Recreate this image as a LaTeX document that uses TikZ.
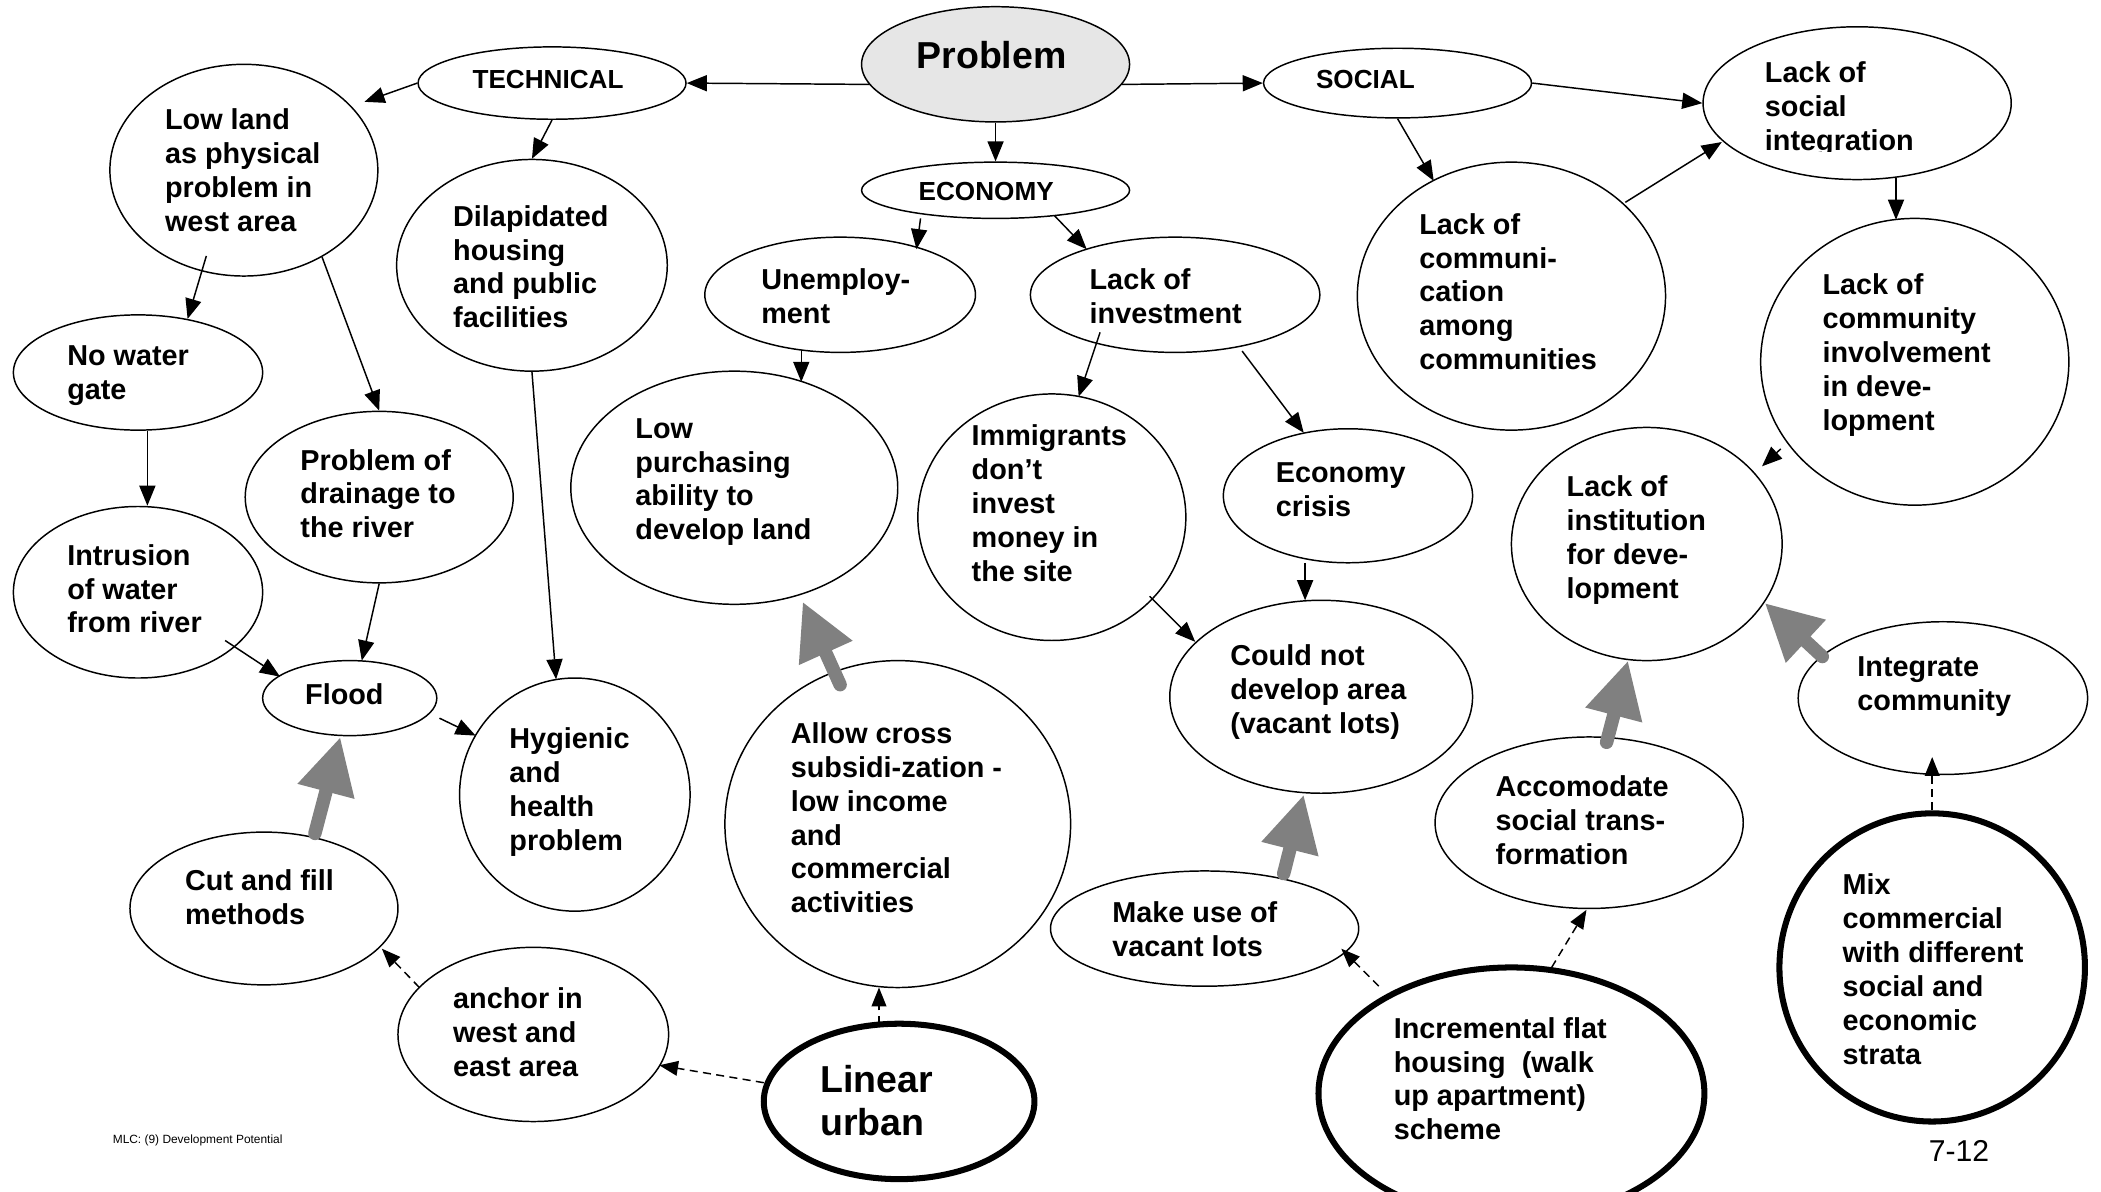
\documentclass[tikz,border=0pt]{standalone}
\usepackage{fontspec}
\setmainfont{Liberation Sans}
\usetikzlibrary{arrows.meta,shapes.geometric,calc}

\begin{document}
\begin{tikzpicture}[x=1pt,y=-1pt,
  bub/.style={draw=black,line width=1.1pt,ellipse,inner sep=0pt,fill=white},
  thickbub/.style={bub,line width=4.5pt},
  txt/.style={font=\bfseries\fontsize{21.5}{25.3}\selectfont,align=left,inner sep=0pt,anchor=north west},
  cat/.style={font=\bfseries\fontsize{19.5}{22}\selectfont,inner sep=0pt},
  big/.style={font=\bfseries\fontsize{28}{32}\selectfont,align=left,inner sep=0pt},
  arr/.style={line width=1.1pt,-{Triangle[length=15pt,width=12pt]}},
  dasharr/.style={line width=1.1pt,dash pattern=on 6pt off 4pt,-{Triangle[length=14pt,width=11pt]}},
  grayarr/.style={line width=10pt,draw=arrowgray,line cap=round,-{Triangle[length=42pt,width=41pt]}}]
\definecolor{arrowgray}{RGB}{128,128,128}
\definecolor{problemfill}{RGB}{230,230,230}

% page frame
\path[fill=white] (0,0) rectangle (1568,889);
\useasboundingbox (0,0) rectangle (1568,889);

% ---- bubbles ----
\node[bub,fill=problemfill,minimum width=200pt,minimum height=86pt] (prob) at (743,48) {};
\node[bub,minimum width=200pt,minimum height=54pt] (tech) at (412,62) {};
\node[bub,minimum width=200pt,minimum height=52pt] (social) at (1043,62) {};
\node[bub,minimum width=200pt,minimum height=42pt] (econ) at (743,142) {};
\node[bub,minimum width=230pt,minimum height=114pt] (integ) at (1386,77) {};
\node[bub,minimum width=200pt,minimum height=158pt] (lowland) at (182,127) {};
\node[bub,minimum width=202pt,minimum height=158pt] (dilap) at (397,198) {};
\node[bub,minimum width=186pt,minimum height=86pt] (nowater) at (103,278) {};
\node[bub,minimum width=202pt,minimum height=86pt] (unemp) at (627,220) {};
\node[bub,minimum width=216pt,minimum height=86pt] (invest) at (877,220) {};
\node[bub,minimum width=230pt,minimum height=200pt] (commun) at (1128,221) {};
\node[bub,minimum width=230pt,minimum height=214pt] (involve) at (1429,270) {};
\node[bub,minimum width=244pt,minimum height=174pt] (purch) at (548,364) {};
\node[bub,minimum width=200pt,minimum height=184pt] (immig) at (785,386) {};
\node[bub,minimum width=186pt,minimum height=100pt] (crisis) at (1006,370) {};
\node[bub,minimum width=226pt,minimum height=144pt] (vacant) at (986,520) {};
\node[bub,minimum width=200pt,minimum height=128pt] (drain) at (283,371) {};
\node[bub,minimum width=186pt,minimum height=128pt] (intrus) at (103,442) {};
\node[bub,minimum width=130pt,minimum height=56pt] (flood) at (261,521) {};
\node[bub,minimum width=172pt,minimum height=174pt] (hyg) at (429,593) {};
\node[bub,minimum width=258pt,minimum height=244pt] (allow) at (670,615) {};
\node[bub,minimum width=202pt,minimum height=174pt] (instit) at (1229,406) {};
\node[bub,minimum width=216pt,minimum height=114pt] (integr) at (1450,521) {};
\node[bub,minimum width=230pt,minimum height=128pt] (accom) at (1186,614) {};
\node[bub,minimum width=230pt,minimum height=86pt] (makeuse) at (899,693) {};
\node[thickbub,minimum width=288pt,minimum height=188pt] (increm) at (1128,816) {};
\node[thickbub,minimum width=228pt,minimum height=230pt] (mix) at (1442,722) {};
\node[thickbub,minimum width=202pt,minimum height=116pt] (linear) at (671,822) {};
\node[bub,minimum width=202pt,minimum height=130pt] (anchor) at (398,772) {};
\node[bub,minimum width=200pt,minimum height=114pt] (cutfill) at (197,678) {};

% ---- texts ----
\node[big] (prob-t) at (740,41) {Problem};
\node[cat] (tech-t) at (409,59) {TECHNICAL};
\node[cat] (social-t) at (1019,59) {SOCIAL};
\node[cat] (econ-t) at (736,143) {ECONOMY};
\begin{scope}
  \clip ($(integ)+(-90,-57)$) rectangle ($(integ)+(110,36)$);
  \node[txt] (integ-t) at (1317,46) {Lack of\\social\\integration};
\end{scope}
\node[txt] (lowland-t) at (123,81) {Low land\\as physical\\problem in\\west area};
\node[txt] (dilap-t) at (338,153) {Dilapidated\\housing\\and public\\facilities};
\node[txt] (unemp-t) at (568,200) {Unemploy-\\ment};
\node[txt] (invest-t) at (813,200) {Lack of\\investment};
\node[txt] (commun-t) at (1059,159) {Lack of\\communi-\\cation\\among\\communities};
\node[txt] (involve-t) at (1360,204) {Lack of\\community\\involvement\\in deve-\\lopment};
\node[txt] (nowater-t) at (50,258) {No water\\gate};
\node[txt] (drain-t) at (224,335) {Problem of\\drainage to\\the river};
\node[txt] (purch-t) at (474,312) {Low\\purchasing\\ability to\\develop land};
\node[txt] (immig-t) at (725,317) {Immigrants\\don’t\\invest\\money in\\the site};
\node[txt] (crisis-t) at (952,345) {Economy\\crisis};
\node[txt] (instit-t) at (1169,355) {Lack of\\institution\\for deve-\\lopment};
\node[txt] (intrus-t) at (50,406) {Intrusion\\of water\\from river};
\node[txt,anchor=center] (flood-t) at (257,518) {Flood};
\node[txt] (vacant-t) at (918,481) {Could not\\develop area\\(vacant lots)};
\node[txt] (integr-t) at (1386,490) {Integrate\\community};
\node[txt] (hyg-t) at (380,543) {Hygienic\\and\\health\\problem};
\node[txt] (allow-t) at (590,539) {Allow cross\\subsidi-zation -\\low income\\and\\commercial\\activities};
\node[txt] (accom-t) at (1116,579) {Accomodate\\social trans-\\formation};
\node[txt] (cutfill-t) at (138,649) {Cut and fill\\methods};
\node[txt] (mix-t) at (1375,652) {Mix\\commercial\\with different\\social and\\economic\\strata};
\node[txt] (makeuse-t) at (830,673) {Make use of\\vacant lots};
\node[txt] (anchor-t) at (338,737) {anchor in\\west and\\east area};
\node[big,anchor=north west] (linear-t) at (612,795) {Linear\\urban};
\node[txt] (increm-t) at (1040,759) {Incremental flat\\housing\ \ (walk\\up apartment)\\scheme};

\node[font=\fontsize{8.9}{10}\selectfont,inner sep=0pt,anchor=west] (footer) at (84,851) {MLC: (9) Development Potential};
\node[font=\fontsize{22.5}{26}\selectfont,inner sep=0pt] (pagenum) at (1462,859) {7-12};

% ---- causal links ----
\draw[arr] ($(prob)+(-94,15)$) -- (tech.east);
\draw[arr] ($(prob)+(94,15)$) -- (social.west);
\draw[arr] (prob.south) -- (econ.north);
\draw[arr] (tech.west) -- ($(lowland)+(90,-51)$);
\draw[arr] (tech.south) -- (dilap.north);
\draw[arr] ($(lowland)+(-28,64)$) -- ($(nowater)+(37,-40)$);
\draw[arr] (lowland.-48) -- (drain.north);
\draw[arr] ($(nowater.south)+(7,0)$) -- ($(intrus.north)+(7,0)$);
\draw[arr] ($(intrus)+(65,36)$) -- ($(flood)+(-52,-16)$);
\draw[arr] (drain.south) -- ($(flood)+(9,-28)$);
\draw[arr] ($(flood)+(67,15)$) -- ($(hyg)+(-74,-44)$);
\draw[arr] (dilap.south) -- ($(hyg)+(-14,-86)$);
\draw[arr] ($(econ)+(-56,21)$) -- ($(unemp)+(57,-34)$);
\draw[arr] ($(econ)+(44,19)$) -- ($(invest)+(-66,-34)$);
\draw[arr] ($(unemp)+(-29,41)$) -- ($(purch)+(50,-79)$);
\draw[arr] ($(invest)+(-56,28)$) -- ($(immig)+(20,-90)$);
\draw[arr] ($(invest)+(50,42)$) -- ($(crisis)+(-33,-47)$);
\draw[arr] ($(crisis)+(-32,50)$) -- ($(vacant)+(-12,-72)$);
\draw[arr] ($(immig)+(73,59)$) -- ($(vacant)+(-94,-41)$);
\draw[arr] (social.south) -- ($(commun)+(-58,-86)$);
\draw[arr] (social.east) -- (integ.west);
\draw[arr] ($(commun)+(85,-70)$) -- ($(integ)+(-101,29)$);
\draw[arr] ($(integ)+(29,56)$) -- ($(involve)+(-14,-106)$);
\draw[arr] ($(involve)+(-100,65)$) -- ($(instit)+(86,-58)$);

% ---- strategy arrows ----
\draw[grayarr] ($(cutfill)+(38,-56)$) -- ($(flood)+(-7,29)$);
\draw[grayarr] ($(allow)+(-43,-104)$) -- ($(purch)+(51,85)$);
\draw[grayarr] ($(makeuse)+(59,-41)$) -- ($(vacant)+(-13,73)$);
\draw[grayarr] ($(accom)+(13,-60)$) -- ($(instit)+(-14,87)$);
\draw[grayarr] ($(integr)+(-90,-31)$) -- ($(instit)+(88,44)$);

% ---- proposals ----
\draw[dasharr] ($(anchor)+(-85,-35)$) -- ($(cutfill)+(88,30)$);
\draw[dasharr] ($(linear)+(-101,-14)$) -- ($(anchor)+(94,23)$);
\draw[dasharr] ($(linear)+(-15,-58)$) -- ($(allow)+(-14,122)$);
\draw[dasharr] ($(increm)+(-99,-80)$) -- ($(makeuse)+(102,15)$);
\draw[dasharr] ($(increm)+(30,-94)$) -- ($(accom)+(-2,65)$);
\draw[dasharr] (mix.north) -- ($(integr)+(-8,44)$);
\end{tikzpicture}
\end{document}
